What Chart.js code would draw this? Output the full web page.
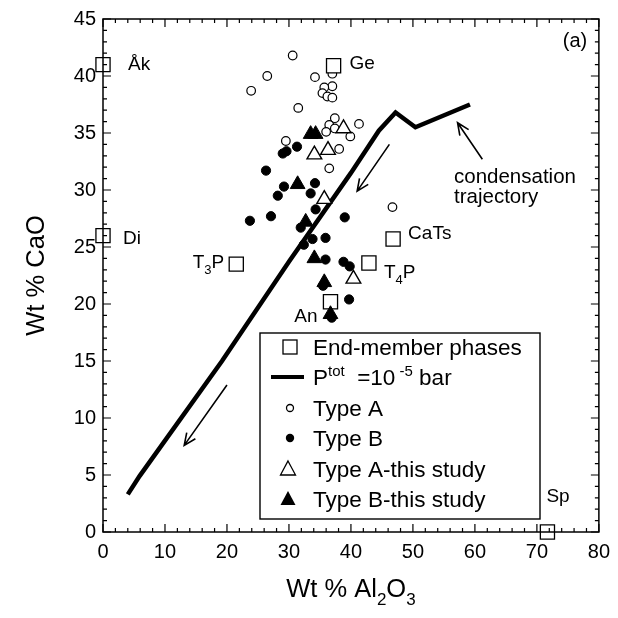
<!DOCTYPE html>
<html>
<head>
<meta charset="utf-8">
<script src="https://cdn.jsdelivr.net/npm/chart.js@4.4.0/dist/chart.umd.min.js"></script>
<style>
  html, body { margin: 0; padding: 0; background: #fff; }
  #wrap { width: 618px; height: 618px; }
</style>
</head>
<body>
<div id="wrap"><canvas id="chart" width="618" height="618"></canvas></div>
<script>
// end-member phases (wt% Al2O3, wt% CaO)
const endNames = ["Åk", "Di", "Ge", "CaTs", "T3P", "T4P", "An", "Sp"];
const endAl = [0, 0, 37.2, 46.8, 21.5, 42.9, 36.7, 71.7];
const endCa = [41.0, 26.0, 40.9, 25.7, 23.5, 23.6, 20.2, 0];

// condensation trajectory at Ptot = 1e-5 bar
const trajAl = [4.0, 5.9, 19.2, 30.1, 40.0, 44.5, 47.2, 50.4, 59.2];
const trajCa = [3.3, 4.9, 15.0, 23.8, 31.5, 35.2, 36.8, 35.5, 37.5];

// Type A inclusions (literature)
const typeAAl = [30.6, 26.5, 23.9, 34.2, 37.0, 37.0, 35.7, 35.4, 36.2, 37.0, 31.5, 37.4, 41.3, 36.5, 37.4, 36.0, 39.9, 29.5, 38.1, 36.5, 46.7];
const typeACa = [41.8, 40.0, 38.7, 39.9, 40.2, 39.1, 39.0, 38.5, 38.2, 38.1, 37.2, 36.3, 35.8, 35.7, 35.4, 35.1, 34.7, 34.3, 33.6, 31.9, 28.5];

// Type B inclusions (literature)
const typeBAl = [29.0, 29.6, 31.3, 26.3, 29.2, 28.2, 33.5, 34.2, 34.3, 27.1, 23.7, 39.0, 31.9, 33.8, 32.4, 35.9, 35.9, 38.8, 39.8, 35.5, 39.7, 36.9];
const typeBCa = [33.2, 33.4, 33.8, 31.7, 30.3, 29.5, 29.7, 30.6, 28.3, 27.7, 27.3, 27.6, 26.7, 25.7, 25.2, 25.8, 23.9, 23.7, 23.3, 21.6, 20.4, 18.8];

// Type A - this study
const thisAAl = [38.8, 34.1, 36.3, 35.7, 40.4];
const thisACa = [35.4, 33.1, 33.5, 29.2, 22.2];

// Type B - this study
const thisBAl = [33.5, 34.3, 31.4, 32.7, 34.1, 35.7, 36.7];
const thisBCa = [34.9, 34.9, 30.5, 27.2, 24.0, 21.9, 19.1];

// arrows (tail -> head), data units
const arrows = [
  [61.2, 32.7, 57.2, 35.9],
  [46.2, 34.0, 41.0, 29.9],
  [20.0, 12.9, 13.1, 7.6]
];

const FONT = '"Liberation Sans", Arial, Helvetica, sans-serif';

function pts(xs, ys) {
  return xs.map((x, i) => ({ x: x, y: ys[i] }));
}

// draw text made of parts: [text, 0 normal | 1 subscript | 2 superscript]
function richText(ctx, parts, x, y, align, size) {
  const small = Math.round(size * 0.68);
  let w = 0;
  const ws = parts.map(p => {
    ctx.font = (p[1] ? small : size) + 'px ' + FONT;
    const m = ctx.measureText(p[0]).width;
    w += m;
    return m;
  });
  let cx = align === 'center' ? x - w / 2 : (align === 'right' ? x - w : x);
  ctx.textAlign = 'left';
  ctx.textBaseline = 'alphabetic';
  parts.forEach((p, i) => {
    ctx.font = (p[1] ? small : size) + 'px ' + FONT;
    const dy = p[1] === 1 ? size * 0.3 : (p[1] === 2 ? -size * 0.42 : 0);
    ctx.fillText(p[0], cx, y + dy);
    cx += ws[i];
  });
  return w;
}

const labelParts = {
  "Åk": [["Åk", 0]],
  "Di": [["Di", 0]],
  "Ge": [["Ge", 0]],
  "CaTs": [["CaTs", 0]],
  "T3P": [["T", 0], ["3", 1], ["P", 0]],
  "T4P": [["T", 0], ["4", 1], ["P", 0]],
  "An": [["An", 0]],
  "Sp": [["Sp", 0]]
};
// label anchor offsets from the symbol, in pixels
const labelOffs = {
  "Åk": [25, 5, 'left'], "Di": [20, 8, 'left'], "Ge": [16, 3, 'left'],
  "CaTs": [15, 0, 'left'], "T3P": [-12, 4, 'right'], "T4P": [15, 15, 'left'],
  "An": [-13, 20, 'right'], "Sp": [-1, -30, 'left']
};

const decor = {
  id: 'decor',
  afterDatasetsDraw(chart) {
    const ctx = chart.ctx;
    const a = chart.chartArea;
    const xs = chart.scales.x, ys = chart.scales.y;
    ctx.save();
    ctx.strokeStyle = '#000';
    ctx.fillStyle = '#000';

    // frame
    ctx.lineWidth = 1.5;
    ctx.strokeRect(a.left, a.top, a.right - a.left, a.bottom - a.top);

    // inward ticks on all four sides
    ctx.lineWidth = 1.2;
    ctx.beginPath();
    for (let v = 0; v <= 80; v += 2) {
      const px = xs.getPixelForValue(v);
      const len = v % 10 === 0 ? 8 : 4;
      ctx.moveTo(px, a.bottom); ctx.lineTo(px, a.bottom - len);
      ctx.moveTo(px, a.top); ctx.lineTo(px, a.top + len);
    }
    for (let v = 0; v <= 45; v += 1) {
      const py = ys.getPixelForValue(v);
      const len = v % 5 === 0 ? 8 : 4;
      ctx.moveTo(a.left, py); ctx.lineTo(a.left + len, py);
      ctx.moveTo(a.right, py); ctx.lineTo(a.right - len, py);
    }
    ctx.stroke();

    // arrows
    ctx.lineWidth = 1.6;
    arrows.forEach(ar => {
      const x1 = xs.getPixelForValue(ar[0]), y1 = ys.getPixelForValue(ar[1]);
      const x2 = xs.getPixelForValue(ar[2]), y2 = ys.getPixelForValue(ar[3]);
      const ang = Math.atan2(y2 - y1, x2 - x1);
      const hl = 13, hw = 0.42;
      ctx.beginPath();
      ctx.moveTo(x1, y1); ctx.lineTo(x2, y2);
      ctx.moveTo(x2 - hl * Math.cos(ang - hw), y2 - hl * Math.sin(ang - hw));
      ctx.lineTo(x2, y2);
      ctx.lineTo(x2 - hl * Math.cos(ang + hw), y2 - hl * Math.sin(ang + hw));
      ctx.stroke();
    });

    // end-member labels
    endNames.forEach((n, i) => {
      const px = xs.getPixelForValue(endAl[i]), py = ys.getPixelForValue(endCa[i]);
      const o = labelOffs[n];
      richText(ctx, labelParts[n], px + o[0], py + o[1], o[2], 19);
    });

    // condensation trajectory note and panel tag
    ctx.font = '20.5px ' + FONT;
    ctx.textAlign = 'left';
    ctx.textBaseline = 'alphabetic';
    ctx.fillText('condensation', 454, 183);
    ctx.fillText('trajectory', 454, 203);
    ctx.font = '20px ' + FONT;
    ctx.textAlign = 'center';
    ctx.fillText('(a)', 575, 47);

    // legend
    const lx = 260, ly = 333, lw = 280, lh = 186;
    ctx.fillStyle = '#fff';
    ctx.fillRect(lx, ly, lw, lh);
    ctx.lineWidth = 1.4;
    ctx.strokeRect(lx, ly, lw, lh);
    ctx.fillStyle = '#000';
    const rows = [355, 385, 416, 446, 477, 507];
    const sx = 290, tx = 313, fs = 22.5;
    const cy = rows.map(r => r - 8);
    // square
    ctx.lineWidth = 1.3;
    ctx.strokeRect(sx - 7, cy[0] - 7, 14, 14);
    richText(ctx, [["End-member phases", 0]], tx, rows[0], 'left', fs);
    // line
    ctx.lineWidth = 4;
    ctx.beginPath(); ctx.moveTo(271, cy[1]); ctx.lineTo(304, cy[1]); ctx.stroke();
    richText(ctx, [["P", 0], ["tot", 2], ["  =10", 0], [" -5", 2], [" bar", 0]], tx, rows[1], 'left', fs);
    // open circle
    ctx.lineWidth = 1.3;
    ctx.beginPath(); ctx.arc(sx, cy[2], 3.5, 0, Math.PI * 2); ctx.stroke();
    richText(ctx, [["Type A", 0]], tx, rows[2], 'left', fs);
    // filled circle
    ctx.beginPath(); ctx.arc(sx, cy[3], 4.2, 0, Math.PI * 2); ctx.fill();
    richText(ctx, [["Type B", 0]], tx, rows[3], 'left', fs);
    // triangles
    const tri = (c, fill) => {
      ctx.beginPath();
      ctx.moveTo(sx - 2, c - 8); ctx.lineTo(sx + 5.5, c + 6); ctx.lineTo(sx - 9.5, c + 6); ctx.closePath();
      if (fill) ctx.fill(); else ctx.stroke();
    };
    tri(cy[4], false);
    richText(ctx, [["Type A-this study", 0]], tx, rows[4], 'left', fs);
    tri(cy[5], true);
    richText(ctx, [["Type B-this study", 0]], tx, rows[5], 'left', fs);

    // axis titles
    richText(ctx, [["Wt % Al", 0], ["2", 1], ["O", 0], ["3", 1]], (a.left + a.right) / 2, 597, 'center', 25.5);
    ctx.save();
    ctx.translate(44, (a.top + a.bottom) / 2);
    ctx.rotate(-Math.PI / 2);
    richText(ctx, [["Wt % CaO", 0]], 0, 0, 'center', 25.5);
    ctx.restore();

    ctx.restore();
  }
};

new Chart(document.getElementById('chart'), {
  type: 'scatter',
  data: {
    datasets: [
      {
        label: 'Ptot = 1e-5 bar',
        data: pts(trajAl, trajCa),
        showLine: true,
        borderColor: '#000',
        borderWidth: 4.5,
        pointRadius: 0,
        tension: 0,
        order: 10
      },
      {
        label: 'End-member phases',
        data: pts(endAl, endCa),
        pointStyle: 'rect',
        pointRadius: 10,
        backgroundColor: '#fff',
        borderColor: '#000',
        borderWidth: 1.3,
        clip: false,
        order: 1
      },
      {
        label: 'Type A',
        data: pts(typeAAl, typeACa),
        pointStyle: 'circle',
        pointRadius: 4.3,
        backgroundColor: '#fff',
        borderColor: '#000',
        borderWidth: 1.2,
        order: 2
      },
      {
        label: 'Type B',
        data: pts(typeBAl, typeBCa),
        pointStyle: 'circle',
        pointRadius: 4.6,
        backgroundColor: '#000',
        borderColor: '#000',
        borderWidth: 1,
        order: 2
      },
      {
        label: 'Type A-this study',
        data: pts(thisAAl, thisACa),
        pointStyle: 'triangle',
        pointRadius: 8.5,
        backgroundColor: '#fff',
        borderColor: '#000',
        borderWidth: 1.4,
        order: 0
      },
      {
        label: 'Type B-this study',
        data: pts(thisBAl, thisBCa),
        pointStyle: 'triangle',
        pointRadius: 8.5,
        backgroundColor: '#000',
        borderColor: '#000',
        borderWidth: 1,
        order: 0
      }
    ]
  },
  options: {
    responsive: false,
    animation: false,
    devicePixelRatio: 1,
    layout: { padding: { top: 17, right: 12, left: 0, bottom: 0 } },
    plugins: {
      legend: { display: false },
      tooltip: { enabled: false }
    },
    scales: {
      x: {
        type: 'linear',
        min: 0, max: 80,
        grid: { display: false, drawTicks: false },
        border: { display: false },
        ticks: { stepSize: 10, padding: 8, color: '#000', font: { family: FONT, size: 20 } },
        afterFit: s => { s.height = 86; }
      },
      y: {
        type: 'linear',
        min: 0, max: 45,
        grid: { display: false, drawTicks: false },
        border: { display: false },
        ticks: { stepSize: 5, padding: 7, color: '#000', font: { family: FONT, size: 20 } },
        afterFit: s => { s.width = 103; }
      }
    }
  },
  plugins: [decor]
});
</script>
</body>
</html>
